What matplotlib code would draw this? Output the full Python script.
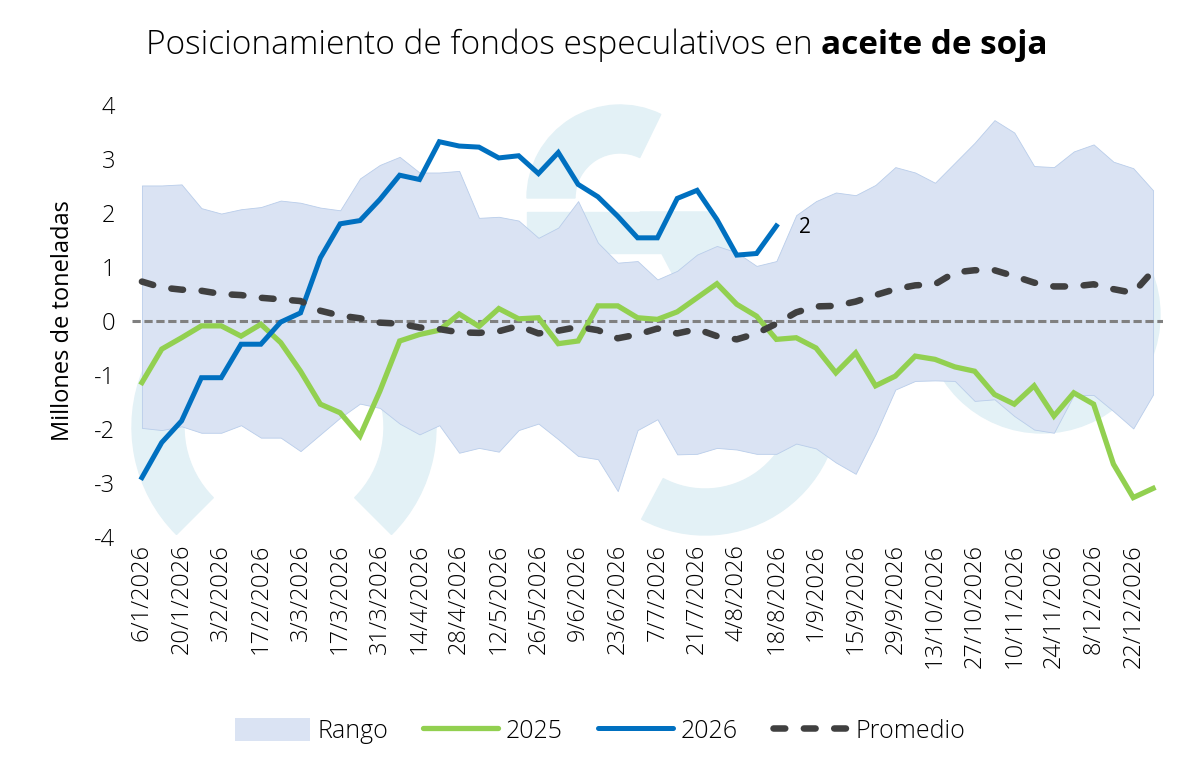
import matplotlib
matplotlib.use('Agg')
import matplotlib.pyplot as plt
from matplotlib.patches import Patch, Wedge, Rectangle, Polygon, Circle
from matplotlib.lines import Line2D

plt.rcParams['font.family'] = ['Open Sans', 'DejaVu Sans']
plt.rcParams['font.weight'] = 'light'

semanas = ['6/1/2026', '13/1/2026', '20/1/2026', '27/1/2026', '3/2/2026', '10/2/2026',
           '17/2/2026', '24/2/2026', '3/3/2026', '10/3/2026', '17/3/2026', '24/3/2026',
           '31/3/2026', '7/4/2026', '14/4/2026', '21/4/2026', '28/4/2026', '5/5/2026',
           '12/5/2026', '19/5/2026', '26/5/2026', '2/6/2026', '9/6/2026', '16/6/2026',
           '23/6/2026', '30/6/2026', '7/7/2026', '14/7/2026', '21/7/2026', '28/7/2026',
           '4/8/2026', '11/8/2026', '18/8/2026', '25/8/2026', '1/9/2026', '8/9/2026',
           '15/9/2026', '22/9/2026', '29/9/2026', '6/10/2026', '13/10/2026', '20/10/2026',
           '27/10/2026', '3/11/2026', '10/11/2026', '17/11/2026', '24/11/2026', '1/12/2026',
           '8/12/2026', '15/12/2026', '22/12/2026', '29/12/2026']

rango_max = [2.51, 2.51, 2.53, 2.09, 1.99, 2.07, 2.11, 2.23, 2.19, 2.10, 2.05, 2.64, 2.89,
             3.04, 2.75, 2.75, 2.78, 1.91, 1.93, 1.86, 1.54, 1.73, 2.22, 1.45, 1.08, 1.11,
             0.77, 0.93, 1.23, 1.39, 1.27, 1.02, 1.11, 1.96, 2.22, 2.38, 2.33, 2.52, 2.85,
             2.75, 2.56, 2.93, 3.30, 3.72, 3.49, 2.87, 2.85, 3.14, 3.27, 2.95, 2.83, 2.42]
rango_min = [-1.98, -2.02, -1.95, -2.07, -2.07, -1.93, -2.16, -2.16, -2.41, -2.10, -1.79,
             -1.53, -1.61, -1.90, -2.10, -1.93, -2.44, -2.35, -2.42, -2.02, -1.90, -2.19,
             -2.50, -2.56, -3.15, -2.02, -1.82, -2.47, -2.46, -2.35, -2.38, -2.46, -2.46,
             -2.27, -2.36, -2.62, -2.83, -2.10, -1.27, -1.11, -1.10, -1.11, -1.48, -1.45,
             -1.76, -2.01, -2.07, -1.37, -1.37, -1.67, -1.99, -1.36]
serie_2025 = [-1.14, -0.52, -0.31, -0.09, -0.09, -0.28, -0.06, -0.40, -0.93, -1.54, -1.70,
              -2.13, -1.30, -0.37, -0.25, -0.17, 0.13, -0.10, 0.23, 0.04, 0.06, -0.42, -0.37,
              0.28, 0.28, 0.06, 0.03, 0.17, 0.43, 0.69, 0.31, 0.09, -0.34, -0.31, -0.50,
              -0.96, -0.59, -1.20, -1.02, -0.65, -0.71, -0.85, -0.93, -1.36, -1.54, -1.20,
              -1.76, -1.33, -1.54, -2.65, -3.27, -3.10]
serie_2026 = [-2.90, -2.25, -1.85, -1.05, -1.05, -0.43, -0.43, -0.02, 0.15, 1.17, 1.80, 1.86,
              2.25, 2.70, 2.62, 3.32, 3.24, 3.22, 3.02, 3.06, 2.73, 3.12, 2.53, 2.30, 1.94,
              1.54, 1.54, 2.27, 2.42, 1.88, 1.22, 1.25, 1.76]
promedio = [0.73, 0.62, 0.58, 0.56, 0.50, 0.48, 0.43, 0.40, 0.37, 0.19, 0.10, 0.05, -0.03,
            -0.05, -0.12, -0.15, -0.21, -0.22, -0.19, -0.09, -0.23, -0.18, -0.11, -0.17,
            -0.32, -0.25, -0.14, -0.23, -0.15, -0.28, -0.34, -0.23, -0.05, 0.16, 0.27, 0.28,
            0.36, 0.48, 0.59, 0.66, 0.68, 0.90, 0.94, 0.94, 0.83, 0.71, 0.64, 0.64, 0.68,
            0.59, 0.52, 0.93]
etiqueta_ultimo = '2'

W, H = 1194, 776
fig = plt.figure(figsize=(W / 100, H / 100), dpi=100)

# marca de agua de fondo (coordenadas en pixeles, y hacia arriba)
bg = fig.add_axes([0, 0, 1, 1])
bg.set_xlim(0, W)
bg.set_ylim(0, H)
bg.axis('off')
wm = '#e3f1f6'
bg.add_patch(Wedge((284, H - 427), 152, -45, 225, width=52, color=wm))
bg.add_patch(Wedge((620, H - 198), 93, 64, 180, width=48, color=wm))
bg.add_patch(Rectangle((527, H - 253), 180, 41, color=wm))
bg.add_patch(Polygon([(640, H - 212), (713, H - 212), (835, H - 420), (760, H - 440)], color=wm))
bg.add_patch(Wedge((705, H - 400), 135, 242, 370, width=46, color=wm))
bg.add_patch(Circle((1042, H - 315), 118, color=wm))

ax = fig.add_axes([132 / W, (H - 537) / H, 1031 / W, 432 / H])
ax.set_facecolor('none')
x = list(range(len(semanas)))

ax.fill_between(x, rango_min, rango_max, facecolor='#dae3f3', edgecolor='#b9cdea',
                lw=0.6, zorder=1)
ax.axhline(0, color='#808080', lw=2.2, dashes=(2.7, 1.2), zorder=2)
ax.plot(x, serie_2025, color='#92d050', lw=3.8, solid_joinstyle='miter', zorder=3)
ax.plot(x[:len(serie_2026)], serie_2026, color='#0070c0', lw=3.6,
        solid_joinstyle='miter', zorder=4)
ax.plot(x, promedio, color='#404040', lw=4.7, dashes=(1.8, 2.85),
        dash_capstyle='round', zorder=5)
ax.annotate(etiqueta_ultimo, (len(serie_2026) - 1, serie_2026[-1]), xytext=(29, -2),
            textcoords='offset pixels', ha='center', va='center', fontsize=15,
            fontweight='normal')

ax.set_xlim(-0.5, len(semanas) - 0.5)
ax.set_ylim(-4, 4)
for s in ax.spines.values():
    s.set_visible(False)
ax.set_yticks(range(-4, 5))
ax.set_yticklabels([str(v) for v in range(-4, 5)])
ax.set_xticks(x[::2])
ax.set_xticklabels(semanas[::2], rotation=90)
ax.tick_params(axis='both', length=0, labelsize=17)
ax.tick_params(axis='y', pad=12)
ax.tick_params(axis='x', pad=5)
ax.set_ylabel('Millones de toneladas', fontsize=17, labelpad=14)

# titulo con parte en negrita
t1 = fig.text(0, 1 - 45 / H, 'Posicionamiento de fondos especulativos en ',
              fontsize=24, va='center', ha='left')
t2 = fig.text(0, 1 - 45 / H, 'aceite de soja', fontsize=24, fontweight='bold',
              va='center', ha='left')
fig.canvas.draw()
r = fig.canvas.get_renderer()
w1 = t1.get_window_extent(r).width
w2 = t2.get_window_extent(r).width
x0 = (597 - (w1 + w2) / 2)
t1.set_x(x0 / W)
t2.set_x((x0 + w1) / W)

handles = [Patch(facecolor='#dae3f3', edgecolor='none'),
           Line2D([], [], color='#92d050', lw=3.8, solid_capstyle='round'),
           Line2D([], [], color='#0070c0', lw=3.6, solid_capstyle='round'),
           Line2D([], [], color='#404040', lw=4.7, dashes=(1.8, 2.85), dash_capstyle='round')]
fig.legend(handles, ['Rango', '2025', '2026', 'Promedio'], loc='center',
           bbox_to_anchor=(600 / W, (H - 731) / H), ncol=4, frameon=False, fontsize=18,
           handlelength=3, handleheight=1.0, handletextpad=0.3, columnspacing=1.4)

fig.savefig('out.png', dpi=100)
